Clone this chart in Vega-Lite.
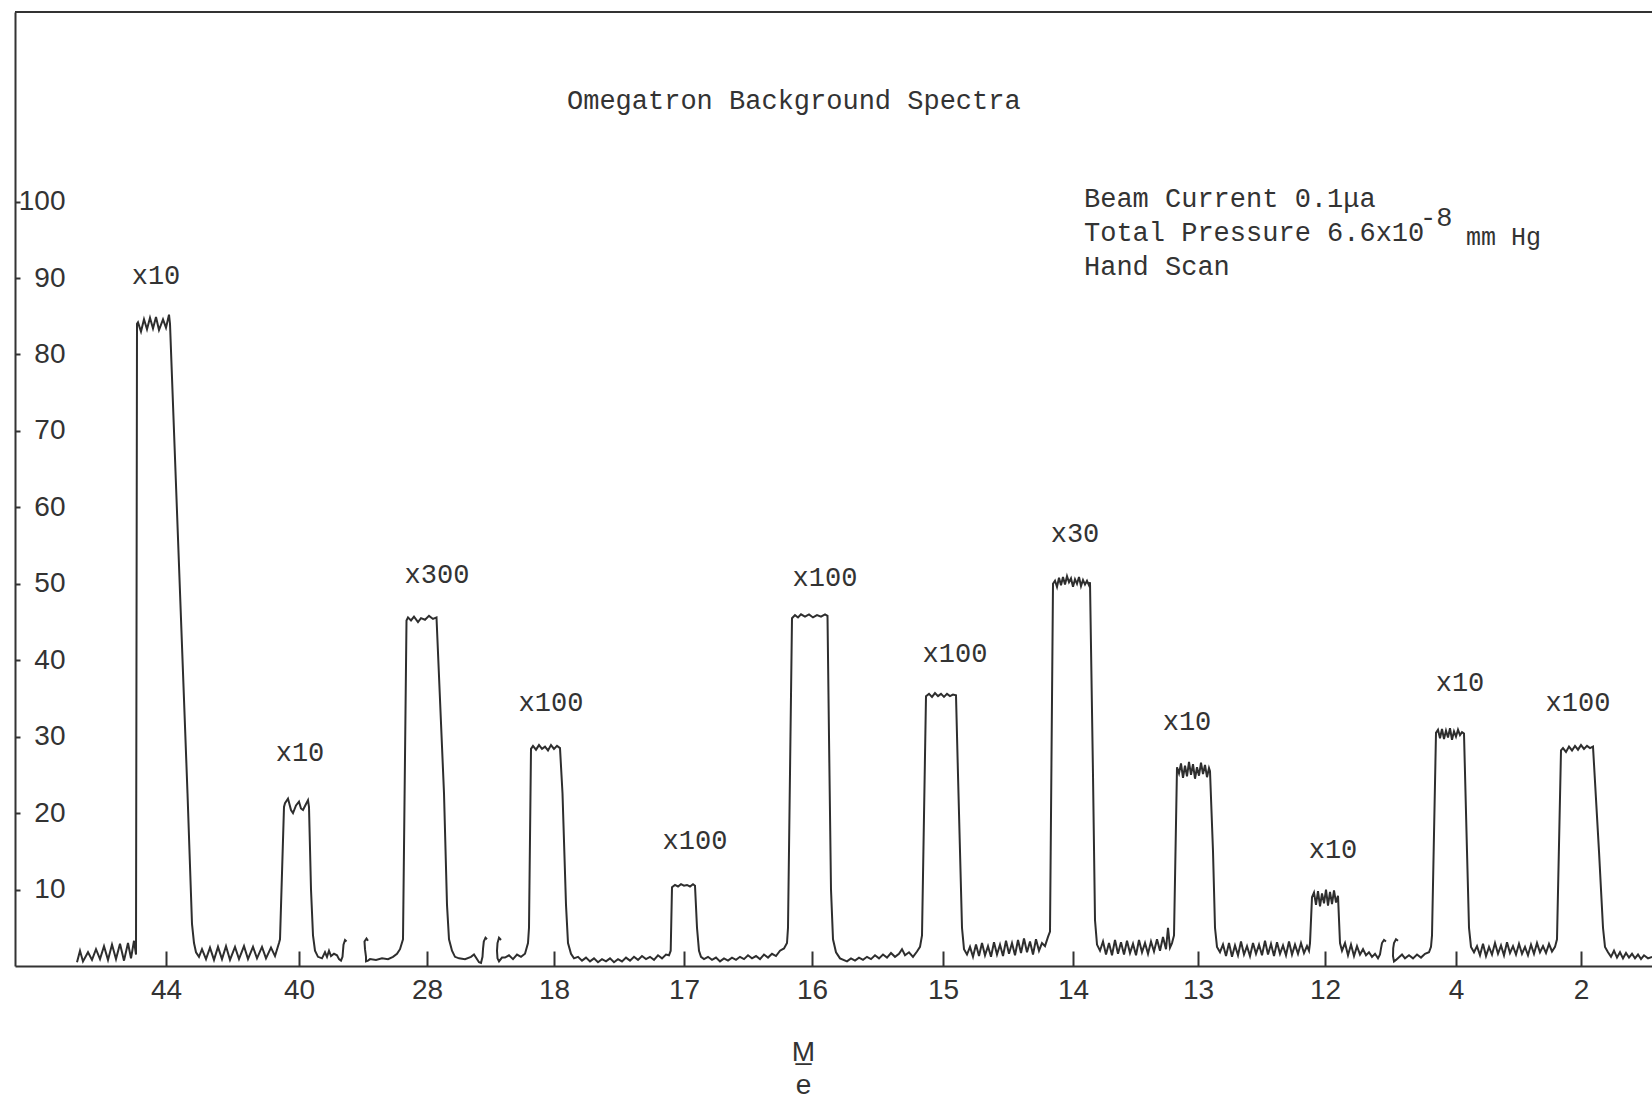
{
  "$schema": "https://vega.github.io/schema/vega-lite/v6.json",
  "autosize": {"type": "none"},
  "padding": {"left": 15, "top": 12, "right": 0, "bottom": 133},
  "width": 1637,
  "height": 954,
  "background": "white",
  "config": {"view": {"stroke": null}},
  "datasets": {
    "trace": [
      {"seg":1,"x":7.7,"y":0.5},{"seg":1,"x":8.0,"y":2.0},{"seg":1,"x":8.3,"y":0.6},{"seg":1,"x":8.8,"y":1.8},{"seg":1,"x":9.2,"y":0.8},{"seg":1,"x":9.6,"y":2.2},{"seg":1,"x":10.0,"y":0.9},{"seg":1,"x":10.4,"y":2.6},{"seg":1,"x":10.8,"y":0.8},{"seg":1,"x":11.2,"y":2.8},{"seg":1,"x":11.6,"y":0.9},{"seg":1,"x":12.0,"y":2.9},{"seg":1,"x":12.4,"y":0.7},{"seg":1,"x":12.8,"y":3.0},{"seg":1,"x":13.1,"y":1.0},{"seg":1,"x":13.4,"y":3.3},{"seg":1,"x":13.6,"y":1.5},{"seg":1,"x":13.7,"y":84.0},{"seg":1,"x":13.8,"y":84.2},{"seg":1,"x":14.1,"y":83.0},{"seg":1,"x":14.4,"y":84.6},{"seg":1,"x":14.7,"y":83.3},{"seg":1,"x":15.0,"y":84.8},{"seg":1,"x":15.3,"y":83.4},{"seg":1,"x":15.6,"y":84.9},{"seg":1,"x":15.9,"y":83.2},{"seg":1,"x":16.3,"y":84.6},{"seg":1,"x":16.6,"y":83.5},{"seg":1,"x":16.9,"y":85.2},{"seg":1,"x":17.0,"y":84.0},{"seg":1,"x":18.75,"y":22.6},{"seg":1,"x":19.2,"y":5.5},{"seg":1,"x":19.4,"y":3.0},{"seg":1,"x":19.6,"y":1.8},{"seg":1,"x":19.9,"y":1.2},{"seg":1,"x":20.2,"y":2.2},{"seg":1,"x":20.6,"y":0.9},{"seg":1,"x":21.0,"y":2.4},{"seg":1,"x":21.4,"y":0.8},{"seg":1,"x":21.8,"y":2.5},{"seg":1,"x":22.2,"y":0.9},{"seg":1,"x":22.6,"y":2.6},{"seg":1,"x":23.0,"y":0.8},{"seg":1,"x":23.5,"y":2.5},{"seg":1,"x":23.9,"y":0.9},{"seg":1,"x":24.4,"y":2.6},{"seg":1,"x":24.8,"y":0.9},{"seg":1,"x":25.3,"y":2.5},{"seg":1,"x":25.7,"y":1.0},{"seg":1,"x":26.2,"y":2.5},{"seg":1,"x":26.6,"y":1.0},{"seg":1,"x":27.1,"y":2.4},{"seg":1,"x":27.5,"y":1.3},{"seg":1,"x":27.9,"y":3.0},{"seg":1,"x":28.0,"y":3.5},{"seg":1,"x":28.4,"y":20.8},{"seg":1,"x":28.5,"y":21.3},{"seg":1,"x":28.8,"y":21.9},{"seg":1,"x":29.1,"y":20.4},{"seg":1,"x":29.3,"y":20.0},{"seg":1,"x":29.6,"y":21.0},{"seg":1,"x":29.9,"y":21.5},{"seg":1,"x":30.1,"y":20.6},{"seg":1,"x":30.3,"y":20.4},{"seg":1,"x":30.6,"y":21.2},{"seg":1,"x":30.8,"y":21.7},{"seg":1,"x":30.9,"y":20.8},{"seg":1,"x":31.1,"y":10.0},{"seg":1,"x":31.3,"y":4.0},{"seg":1,"x":31.5,"y":2.0},{"seg":1,"x":31.8,"y":1.2},{"seg":1,"x":32.2,"y":1.0},{"seg":1,"x":32.5,"y":1.8},{"seg":1,"x":32.7,"y":1.2},{"seg":1,"x":32.9,"y":2.0},{"seg":1,"x":33.1,"y":1.3},{"seg":1,"x":33.4,"y":1.6},{"seg":1,"x":33.7,"y":1.4},{"seg":1,"x":33.9,"y":0.9},{"seg":1,"x":34.1,"y":0.7},{"seg":1,"x":34.25,"y":1.2},{"seg":1,"x":34.3,"y":2.0},{"seg":1,"x":34.35,"y":2.8},{"seg":1,"x":34.5,"y":3.4},{"seg":1,"x":34.65,"y":3.2},
      {"seg":2,"x":36.8,"y":3.3},{"seg":2,"x":36.65,"y":3.6},{"seg":2,"x":36.45,"y":3.2},{"seg":2,"x":36.5,"y":2.2},{"seg":2,"x":36.6,"y":1.2},{"seg":2,"x":36.6,"y":0.6},{"seg":2,"x":36.8,"y":0.7},{"seg":2,"x":37.0,"y":0.9},{"seg":2,"x":37.6,"y":0.8},{"seg":2,"x":38.2,"y":1.0},{"seg":2,"x":38.8,"y":0.9},{"seg":2,"x":39.3,"y":1.2},{"seg":2,"x":39.7,"y":1.6},{"seg":2,"x":40.0,"y":2.2},{"seg":2,"x":40.3,"y":3.5},{"seg":2,"x":40.65,"y":45.2},{"seg":2,"x":40.8,"y":45.6},{"seg":2,"x":41.1,"y":45.2},{"seg":2,"x":41.4,"y":45.7},{"seg":2,"x":41.8,"y":45.0},{"seg":2,"x":42.1,"y":45.5},{"seg":2,"x":42.5,"y":45.3},{"seg":2,"x":42.9,"y":45.8},{"seg":2,"x":43.3,"y":45.4},{"seg":2,"x":43.65,"y":45.6},{"seg":2,"x":44.4,"y":22.6},{"seg":2,"x":44.7,"y":8.0},{"seg":2,"x":44.9,"y":3.5},{"seg":2,"x":45.2,"y":2.0},{"seg":2,"x":45.5,"y":1.2},{"seg":2,"x":45.9,"y":1.0},{"seg":2,"x":46.5,"y":0.9},{"seg":2,"x":47.1,"y":1.2},{"seg":2,"x":47.4,"y":1.5},{"seg":2,"x":47.9,"y":0.5},{"seg":2,"x":48.1,"y":0.4},{"seg":2,"x":48.25,"y":1.2},{"seg":2,"x":48.3,"y":2.2},{"seg":2,"x":48.38,"y":3.2},{"seg":2,"x":48.55,"y":3.7},{"seg":2,"x":48.7,"y":3.5},
      {"seg":3,"x":50.1,"y":3.4},{"seg":3,"x":49.9,"y":3.7},{"seg":3,"x":49.75,"y":3.0},{"seg":3,"x":49.7,"y":2.0},{"seg":3,"x":49.75,"y":1.0},{"seg":3,"x":49.9,"y":0.6},{"seg":3,"x":50.2,"y":1.1},{"seg":3,"x":50.5,"y":1.1},{"seg":3,"x":50.9,"y":1.4},{"seg":3,"x":51.3,"y":0.9},{"seg":3,"x":51.7,"y":1.5},{"seg":3,"x":52.1,"y":1.2},{"seg":3,"x":52.5,"y":1.6},{"seg":3,"x":52.8,"y":3.0},{"seg":3,"x":52.9,"y":5.0},{"seg":3,"x":53.1,"y":28.4},{"seg":3,"x":53.3,"y":28.8},{"seg":3,"x":53.6,"y":28.3},{"seg":3,"x":53.9,"y":28.9},{"seg":3,"x":54.2,"y":28.4},{"seg":3,"x":54.5,"y":28.7},{"seg":3,"x":54.8,"y":28.2},{"seg":3,"x":55.1,"y":28.9},{"seg":3,"x":55.4,"y":28.4},{"seg":3,"x":55.7,"y":28.8},{"seg":3,"x":56.0,"y":28.5},{"seg":3,"x":56.25,"y":22.6},{"seg":3,"x":56.6,"y":8.0},{"seg":3,"x":56.8,"y":3.0},{"seg":3,"x":57.1,"y":1.6},{"seg":3,"x":57.4,"y":1.0},{"seg":3,"x":57.8,"y":1.2},{"seg":3,"x":58.2,"y":0.7},{"seg":3,"x":58.6,"y":1.1},{"seg":3,"x":59.0,"y":0.6},{"seg":3,"x":59.4,"y":1.0},{"seg":3,"x":59.8,"y":0.5},{"seg":3,"x":60.2,"y":0.9},{"seg":3,"x":60.6,"y":0.6},{"seg":3,"x":61.0,"y":1.0},{"seg":3,"x":61.4,"y":0.5},{"seg":3,"x":61.8,"y":0.9},{"seg":3,"x":62.2,"y":0.6},{"seg":3,"x":62.6,"y":1.1},{"seg":3,"x":63.0,"y":0.7},{"seg":3,"x":63.4,"y":1.2},{"seg":3,"x":63.8,"y":0.8},{"seg":3,"x":64.2,"y":1.3},{"seg":3,"x":64.6,"y":0.9},{"seg":3,"x":65.0,"y":1.2},{"seg":3,"x":65.4,"y":0.8},{"seg":3,"x":65.8,"y":1.4},{"seg":3,"x":66.2,"y":1.0},{"seg":3,"x":66.6,"y":1.5},{"seg":3,"x":66.9,"y":1.4},{"seg":3,"x":67.07,"y":2.0},{"seg":3,"x":67.2,"y":10.3},{"seg":3,"x":67.5,"y":10.6},{"seg":3,"x":67.8,"y":10.4},{"seg":3,"x":68.1,"y":10.7},{"seg":3,"x":68.4,"y":10.5},{"seg":3,"x":68.7,"y":10.6},{"seg":3,"x":69.0,"y":10.4},{"seg":3,"x":69.3,"y":10.7},{"seg":3,"x":69.5,"y":10.5},{"seg":3,"x":69.7,"y":5.0},{"seg":3,"x":69.9,"y":2.0},{"seg":3,"x":70.1,"y":1.2},{"seg":3,"x":70.4,"y":0.9},{"seg":3,"x":70.8,"y":1.2},{"seg":3,"x":71.2,"y":0.8},{"seg":3,"x":71.6,"y":1.1},{"seg":3,"x":72.0,"y":0.6},{"seg":3,"x":72.4,"y":1.0},{"seg":3,"x":72.8,"y":0.7},{"seg":3,"x":73.2,"y":1.1},{"seg":3,"x":73.6,"y":0.8},{"seg":3,"x":74.0,"y":1.2},{"seg":3,"x":74.4,"y":0.9},{"seg":3,"x":74.8,"y":1.4},{"seg":3,"x":75.2,"y":1.0},{"seg":3,"x":75.6,"y":1.3},{"seg":3,"x":76.0,"y":0.9},{"seg":3,"x":76.4,"y":1.5},{"seg":3,"x":76.8,"y":1.1},{"seg":3,"x":77.2,"y":1.6},{"seg":3,"x":77.6,"y":1.3},{"seg":3,"x":78.0,"y":2.0},{"seg":3,"x":78.4,"y":2.3},{"seg":3,"x":78.7,"y":3.0},{"seg":3,"x":78.8,"y":5.0},{"seg":3,"x":79.2,"y":45.5},{"seg":3,"x":79.5,"y":45.9},{"seg":3,"x":79.8,"y":45.6},{"seg":3,"x":80.1,"y":46.0},{"seg":3,"x":80.5,"y":45.7},{"seg":3,"x":80.9,"y":46.0},{"seg":3,"x":81.3,"y":45.6},{"seg":3,"x":81.7,"y":45.9},{"seg":3,"x":82.1,"y":45.7},{"seg":3,"x":82.5,"y":46.0},{"seg":3,"x":82.75,"y":45.8},{"seg":3,"x":82.9,"y":30.0},{"seg":3,"x":83.1,"y":10.0},{"seg":3,"x":83.3,"y":3.5},{"seg":3,"x":83.6,"y":1.8},{"seg":3,"x":84.0,"y":1.0},{"seg":3,"x":84.7,"y":0.6},{"seg":3,"x":85.1,"y":1.0},{"seg":3,"x":85.5,"y":0.7},{"seg":3,"x":85.9,"y":1.1},{"seg":3,"x":86.3,"y":0.8},{"seg":3,"x":86.7,"y":1.2},{"seg":3,"x":87.1,"y":0.9},{"seg":3,"x":87.5,"y":1.4},{"seg":3,"x":87.9,"y":1.0},{"seg":3,"x":88.3,"y":1.5},{"seg":3,"x":88.7,"y":1.1},{"seg":3,"x":89.1,"y":1.7},{"seg":3,"x":89.5,"y":1.2},{"seg":3,"x":89.9,"y":1.6},{"seg":3,"x":90.2,"y":2.2},{"seg":3,"x":90.5,"y":1.4},{"seg":3,"x":90.9,"y":1.8},{"seg":3,"x":91.3,"y":1.2},{"seg":3,"x":91.7,"y":1.9},{"seg":3,"x":92.0,"y":2.5},{"seg":3,"x":92.2,"y":4.0},{"seg":3,"x":92.6,"y":35.3},{"seg":3,"x":92.9,"y":35.6},{"seg":3,"x":93.2,"y":35.2},{"seg":3,"x":93.5,"y":35.7},{"seg":3,"x":93.8,"y":35.3},{"seg":3,"x":94.1,"y":35.6},{"seg":3,"x":94.4,"y":35.2},{"seg":3,"x":94.7,"y":35.6},{"seg":3,"x":95.0,"y":35.3},{"seg":3,"x":95.3,"y":35.5},{"seg":3,"x":95.6,"y":35.4},{"seg":3,"x":95.8,"y":25.0},{"seg":3,"x":96.0,"y":15.0},{"seg":3,"x":96.2,"y":5.0},{"seg":3,"x":96.4,"y":2.2},{"seg":3,"x":96.7,"y":1.5},{"seg":3,"x":97.0,"y":2.5},{"seg":3,"x":97.3,"y":1.2},{"seg":3,"x":97.6,"y":2.8},{"seg":3,"x":97.9,"y":1.3},{"seg":3,"x":98.2,"y":3.0},{"seg":3,"x":98.5,"y":1.4},{"seg":3,"x":98.8,"y":2.6},{"seg":3,"x":99.1,"y":1.2},{"seg":3,"x":99.4,"y":3.1},{"seg":3,"x":99.7,"y":1.5},{"seg":3,"x":100.0,"y":2.8},{"seg":3,"x":100.3,"y":1.3},{"seg":3,"x":100.6,"y":3.3},{"seg":3,"x":100.9,"y":1.6},{"seg":3,"x":101.2,"y":3.0},{"seg":3,"x":101.5,"y":1.4},{"seg":3,"x":101.8,"y":3.4},{"seg":3,"x":102.1,"y":1.7},{"seg":3,"x":102.4,"y":3.6},{"seg":3,"x":102.7,"y":1.8},{"seg":3,"x":103.0,"y":3.2},{"seg":3,"x":103.3,"y":1.5},{"seg":3,"x":103.6,"y":3.5},{"seg":3,"x":103.9,"y":2.0},{"seg":3,"x":104.2,"y":3.0},{"seg":3,"x":104.5,"y":2.6},{"seg":3,"x":104.8,"y":3.8},{"seg":3,"x":105.0,"y":4.5},{"seg":3,"x":105.3,"y":50.0},{"seg":3,"x":105.5,"y":50.4},{"seg":3,"x":105.7,"y":49.6},{"seg":3,"x":105.9,"y":50.8},{"seg":3,"x":106.1,"y":49.8},{"seg":3,"x":106.3,"y":50.9},{"seg":3,"x":106.5,"y":49.9},{"seg":3,"x":106.7,"y":51.0},{"seg":3,"x":106.9,"y":50.2},{"seg":3,"x":107.1,"y":50.7},{"seg":3,"x":107.3,"y":49.6},{"seg":3,"x":107.5,"y":50.6},{"seg":3,"x":107.7,"y":50.0},{"seg":3,"x":107.9,"y":50.9},{"seg":3,"x":108.1,"y":49.7},{"seg":3,"x":108.3,"y":50.5},{"seg":3,"x":108.5,"y":49.9},{"seg":3,"x":108.7,"y":50.4},{"seg":3,"x":108.9,"y":49.8},{"seg":3,"x":109.0,"y":50.2},{"seg":3,"x":109.3,"y":25.0},{"seg":3,"x":109.5,"y":6.0},{"seg":3,"x":109.7,"y":2.8},{"seg":3,"x":110.0,"y":2.0},{"seg":3,"x":110.3,"y":3.2},{"seg":3,"x":110.6,"y":1.5},{"seg":3,"x":110.9,"y":3.0},{"seg":3,"x":111.2,"y":1.4},{"seg":3,"x":111.5,"y":3.4},{"seg":3,"x":111.8,"y":1.6},{"seg":3,"x":112.1,"y":3.1},{"seg":3,"x":112.4,"y":1.5},{"seg":3,"x":112.7,"y":3.3},{"seg":3,"x":113.0,"y":1.7},{"seg":3,"x":113.3,"y":2.9},{"seg":3,"x":113.6,"y":1.4},{"seg":3,"x":113.9,"y":3.4},{"seg":3,"x":114.2,"y":1.8},{"seg":3,"x":114.5,"y":3.0},{"seg":3,"x":114.8,"y":1.6},{"seg":3,"x":115.1,"y":3.2},{"seg":3,"x":115.4,"y":1.9},{"seg":3,"x":115.7,"y":3.5},{"seg":3,"x":116.0,"y":2.0},{"seg":3,"x":116.3,"y":3.8},{"seg":3,"x":116.6,"y":2.2},{"seg":3,"x":116.8,"y":5.0},{"seg":3,"x":117.0,"y":2.4},{"seg":3,"x":117.2,"y":3.0},{"seg":3,"x":117.4,"y":4.0},{"seg":3,"x":117.7,"y":26.0},{"seg":3,"x":117.9,"y":25.2},{"seg":3,"x":118.1,"y":26.5},{"seg":3,"x":118.3,"y":24.6},{"seg":3,"x":118.5,"y":26.2},{"seg":3,"x":118.7,"y":24.8},{"seg":3,"x":118.9,"y":26.7},{"seg":3,"x":119.1,"y":25.0},{"seg":3,"x":119.3,"y":26.4},{"seg":3,"x":119.5,"y":24.5},{"seg":3,"x":119.7,"y":26.0},{"seg":3,"x":119.9,"y":24.9},{"seg":3,"x":120.1,"y":26.6},{"seg":3,"x":120.3,"y":25.1},{"seg":3,"x":120.5,"y":26.3},{"seg":3,"x":120.7,"y":24.7},{"seg":3,"x":120.9,"y":25.9},{"seg":3,"x":121.0,"y":25.5},{"seg":3,"x":121.3,"y":15.0},{"seg":3,"x":121.5,"y":5.0},{"seg":3,"x":121.7,"y":2.5},{"seg":3,"x":122.0,"y":1.8},{"seg":3,"x":122.3,"y":2.8},{"seg":3,"x":122.6,"y":1.3},{"seg":3,"x":122.9,"y":3.0},{"seg":3,"x":123.2,"y":1.2},{"seg":3,"x":123.5,"y":2.7},{"seg":3,"x":123.8,"y":1.4},{"seg":3,"x":124.1,"y":3.2},{"seg":3,"x":124.4,"y":1.5},{"seg":3,"x":124.7,"y":2.6},{"seg":3,"x":125.0,"y":1.3},{"seg":3,"x":125.3,"y":3.0},{"seg":3,"x":125.6,"y":1.6},{"seg":3,"x":125.9,"y":2.8},{"seg":3,"x":126.2,"y":1.4},{"seg":3,"x":126.5,"y":3.3},{"seg":3,"x":126.8,"y":1.5},{"seg":3,"x":127.1,"y":2.9},{"seg":3,"x":127.4,"y":1.3},{"seg":3,"x":127.7,"y":3.1},{"seg":3,"x":128.0,"y":1.6},{"seg":3,"x":128.3,"y":2.7},{"seg":3,"x":128.6,"y":1.4},{"seg":3,"x":128.9,"y":3.2},{"seg":3,"x":129.2,"y":1.5},{"seg":3,"x":129.5,"y":2.8},{"seg":3,"x":129.8,"y":1.6},{"seg":3,"x":130.1,"y":3.0},{"seg":3,"x":130.4,"y":1.7},{"seg":3,"x":130.7,"y":2.6},{"seg":3,"x":130.9,"y":2.0},{"seg":3,"x":131.0,"y":3.0},{"seg":3,"x":131.2,"y":9.0},{"seg":3,"x":131.4,"y":9.6},{"seg":3,"x":131.6,"y":8.0},{"seg":3,"x":131.8,"y":9.8},{"seg":3,"x":132.0,"y":7.8},{"seg":3,"x":132.2,"y":9.5},{"seg":3,"x":132.4,"y":8.2},{"seg":3,"x":132.6,"y":10.0},{"seg":3,"x":132.8,"y":7.9},{"seg":3,"x":133.0,"y":9.7},{"seg":3,"x":133.2,"y":8.1},{"seg":3,"x":133.4,"y":9.9},{"seg":3,"x":133.6,"y":8.3},{"seg":3,"x":133.8,"y":9.2},{"seg":3,"x":134.0,"y":3.0},{"seg":3,"x":134.2,"y":2.0},{"seg":3,"x":134.5,"y":3.0},{"seg":3,"x":134.8,"y":1.4},{"seg":3,"x":135.1,"y":2.8},{"seg":3,"x":135.4,"y":1.3},{"seg":3,"x":135.7,"y":2.6},{"seg":3,"x":136.0,"y":1.5},{"seg":3,"x":136.3,"y":2.2},{"seg":3,"x":136.6,"y":1.4},{"seg":3,"x":136.9,"y":1.8},{"seg":3,"x":137.2,"y":1.2},{"seg":3,"x":137.5,"y":1.6},{"seg":3,"x":137.8,"y":1.0},{"seg":3,"x":138.0,"y":1.5},{"seg":3,"x":138.1,"y":2.3},{"seg":3,"x":138.2,"y":3.0},{"seg":3,"x":138.4,"y":3.4},{"seg":3,"x":138.6,"y":3.2},
      {"seg":4,"x":139.8,"y":3.3},{"seg":4,"x":139.6,"y":3.5},{"seg":4,"x":139.4,"y":3.0},{"seg":4,"x":139.32,"y":2.3},{"seg":4,"x":139.3,"y":1.3},{"seg":4,"x":139.4,"y":0.6},{"seg":4,"x":139.6,"y":0.8},{"seg":4,"x":140.2,"y":1.5},{"seg":4,"x":140.5,"y":1.0},{"seg":4,"x":140.9,"y":1.4},{"seg":4,"x":141.3,"y":1.0},{"seg":4,"x":141.7,"y":1.5},{"seg":4,"x":142.1,"y":1.1},{"seg":4,"x":142.5,"y":1.6},{"seg":4,"x":142.9,"y":1.8},{"seg":4,"x":143.1,"y":2.5},{"seg":4,"x":143.2,"y":4.0},{"seg":4,"x":143.6,"y":30.5},{"seg":4,"x":143.8,"y":30.9},{"seg":4,"x":144.0,"y":29.8},{"seg":4,"x":144.2,"y":31.0},{"seg":4,"x":144.4,"y":29.7},{"seg":4,"x":144.6,"y":30.8},{"seg":4,"x":144.8,"y":29.9},{"seg":4,"x":145.0,"y":31.1},{"seg":4,"x":145.2,"y":29.6},{"seg":4,"x":145.4,"y":30.7},{"seg":4,"x":145.6,"y":30.0},{"seg":4,"x":145.8,"y":30.9},{"seg":4,"x":146.0,"y":30.2},{"seg":4,"x":146.2,"y":30.6},{"seg":4,"x":146.4,"y":30.4},{"seg":4,"x":146.7,"y":15.0},{"seg":4,"x":146.9,"y":5.0},{"seg":4,"x":147.1,"y":2.5},{"seg":4,"x":147.4,"y":1.8},{"seg":4,"x":147.7,"y":2.6},{"seg":4,"x":148.0,"y":1.4},{"seg":4,"x":148.3,"y":2.9},{"seg":4,"x":148.6,"y":1.3},{"seg":4,"x":148.9,"y":2.5},{"seg":4,"x":149.2,"y":1.5},{"seg":4,"x":149.5,"y":3.0},{"seg":4,"x":149.8,"y":1.6},{"seg":4,"x":150.1,"y":2.7},{"seg":4,"x":150.4,"y":1.4},{"seg":4,"x":150.7,"y":3.1},{"seg":4,"x":151.0,"y":1.7},{"seg":4,"x":151.3,"y":2.6},{"seg":4,"x":151.6,"y":1.5},{"seg":4,"x":151.9,"y":2.9},{"seg":4,"x":152.2,"y":1.6},{"seg":4,"x":152.5,"y":2.5},{"seg":4,"x":152.8,"y":1.4},{"seg":4,"x":153.1,"y":2.8},{"seg":4,"x":153.4,"y":1.6},{"seg":4,"x":153.7,"y":3.0},{"seg":4,"x":154.0,"y":1.8},{"seg":4,"x":154.3,"y":2.6},{"seg":4,"x":154.6,"y":1.7},{"seg":4,"x":154.9,"y":2.9},{"seg":4,"x":155.2,"y":1.9},{"seg":4,"x":155.5,"y":2.5},{"seg":4,"x":155.7,"y":3.5},{"seg":4,"x":156.1,"y":28.2},{"seg":4,"x":156.3,"y":28.5},{"seg":4,"x":156.6,"y":28.0},{"seg":4,"x":156.9,"y":28.7},{"seg":4,"x":157.2,"y":28.2},{"seg":4,"x":157.5,"y":28.8},{"seg":4,"x":157.8,"y":28.3},{"seg":4,"x":158.1,"y":28.9},{"seg":4,"x":158.4,"y":28.4},{"seg":4,"x":158.7,"y":28.8},{"seg":4,"x":159.0,"y":28.5},{"seg":4,"x":159.3,"y":28.7},{"seg":4,"x":159.9,"y":15.0},{"seg":4,"x":160.3,"y":5.0},{"seg":4,"x":160.5,"y":2.5},{"seg":4,"x":160.8,"y":1.8},{"seg":4,"x":161.1,"y":1.2},{"seg":4,"x":161.4,"y":2.0},{"seg":4,"x":161.7,"y":1.1},{"seg":4,"x":162.0,"y":1.8},{"seg":4,"x":162.3,"y":1.0},{"seg":4,"x":162.6,"y":1.7},{"seg":4,"x":162.9,"y":1.1},{"seg":4,"x":163.2,"y":1.6},{"seg":4,"x":163.5,"y":1.0},{"seg":4,"x":163.8,"y":1.5},{"seg":4,"x":164.1,"y":0.9},{"seg":4,"x":164.4,"y":1.4},{"seg":4,"x":164.8,"y":1.0},{"seg":4,"x":165.2,"y":1.2}
    ],
    "factors": [
      {"x":15.6,"y":90.2,"label":"x10"},
      {"x":30.0,"y":27.9,"label":"x10"},
      {"x":43.7,"y":51.2,"label":"x300"},
      {"x":55.1,"y":34.4,"label":"x100"},
      {"x":69.5,"y":16.4,"label":"x100"},
      {"x":82.5,"y":50.8,"label":"x100"},
      {"x":95.5,"y":40.8,"label":"x100"},
      {"x":107.5,"y":56.5,"label":"x30"},
      {"x":118.7,"y":31.9,"label":"x10"},
      {"x":133.3,"y":15.2,"label":"x10"},
      {"x":146.0,"y":37.0,"label":"x10"},
      {"x":157.8,"y":34.4,"label":"x100"}
    ],
    "notes": [
      {"x":56.7,"y":113.1,"label":"Omegatron Background Spectra"},
      {"x":108.4,"y":100.3,"label":"Beam Current 0.1μa"},
      {"x":108.4,"y":95.9,"label":"Total Pressure 6.6x10"},
      {"x":108.4,"y":91.4,"label":"Hand Scan"}
    ],
    "sup": [{"x":142.0,"y":97.8,"label":"-8"}],
    "unit": [{"x":146.6,"y":95.4,"label":"mm Hg"}]
  },
  "encoding": {
    "x": {
      "field": "x", "type": "quantitative",
      "scale": {"domain": [1.5, 165.2], "nice": false, "zero": false},
      "axis": {
        "values": [16.6, 29.9, 42.7, 55.4, 68.4, 81.2, 94.3, 107.3, 119.8, 132.5, 145.6, 158.1],
        "labelExpr": "['44','40','28','18','17','16','15','14','13','12','4','2'][indexof([16.6,29.9,42.7,55.4,68.4,81.2,94.3,107.3,119.8,132.5,145.6,158.1], datum.value)]",
        "grid": false,
        "domainColor": "#333333", "domainWidth": 2,
        "tickColor": "#333333", "tickWidth": 2, "tickSize": -15,
        "labelFont": "Liberation Sans", "labelFontSize": 28, "labelColor": "#333333",
        "labelPadding": 25, "labelFlush": false, "labelOverlap": false,
        "title": ["M\u0332", "e"],
        "titleFont": "Liberation Sans", "titleFontSize": 28, "titleFontWeight": "normal",
        "titleColor": "#333333", "titleLineHeight": 33,
        "titleX": 788, "titleY": 86, "titleBaseline": "middle", "titleAlign": "center", "titleAnchor": null
      }
    },
    "y": {
      "field": "y", "type": "quantitative",
      "scale": {"domain": [0, 124.8], "nice": false, "zero": true},
      "axis": {
        "values": [10, 20, 30, 40, 50, 60, 70, 80, 90, 100],
        "grid": false,
        "domainColor": "#333333", "domainWidth": 2,
        "tickColor": "#333333", "tickWidth": 2, "tickSize": -5,
        "labelFont": "Liberation Sans", "labelFontSize": 28, "labelColor": "#333333",
        "labelAlign": "right", "labelPadding": -45, "labelFlush": false, "labelOverlap": false,
        "title": null
      }
    }
  },
  "layer": [
    {
      "data": {"name": "trace"},
      "mark": {"type": "line", "color": "#2e2e2e", "strokeWidth": 2, "interpolate": "linear"},
      "encoding": {"detail": {"field": "seg"}, "order": {"value": null}}
    },
    {
      "data": {"values": [{"top": 124.8}]},
      "mark": {"type": "rule", "color": "#333333", "strokeWidth": 2},
      "encoding": {"y": {"field": "top", "type": "quantitative"}, "x": {"value": 0}, "x2": {"value": 1637}}
    },
    {
      "data": {"name": "factors"},
      "mark": {"type": "text", "font": "Liberation Mono", "fontSize": 27, "color": "#333333", "align": "center", "baseline": "middle"},
      "encoding": {"text": {"field": "label"}}
    },
    {
      "data": {"name": "notes"},
      "mark": {"type": "text", "font": "Liberation Mono", "fontSize": 27, "color": "#333333", "align": "left", "baseline": "middle"},
      "encoding": {"text": {"field": "label"}}
    },
    {
      "data": {"name": "sup"},
      "mark": {"type": "text", "font": "Liberation Mono", "fontSize": 27, "color": "#333333", "align": "left", "baseline": "middle"},
      "encoding": {"text": {"field": "label"}}
    },
    {
      "data": {"name": "unit"},
      "mark": {"type": "text", "font": "Liberation Mono", "fontSize": 25, "color": "#333333", "align": "left", "baseline": "middle"},
      "encoding": {"text": {"field": "label"}}
    }
  ]
}
